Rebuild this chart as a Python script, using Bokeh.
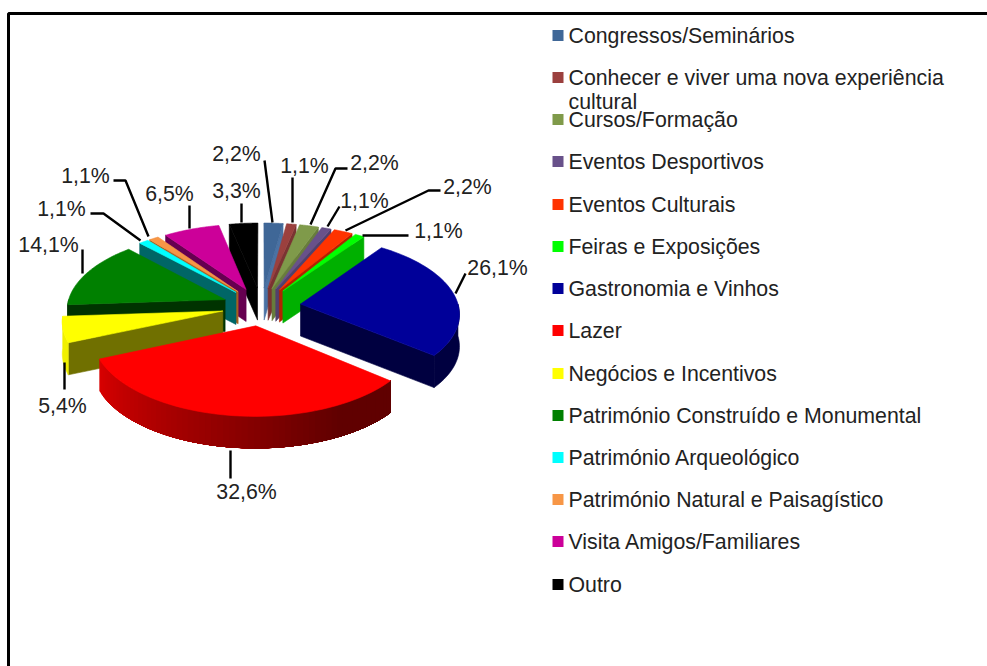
import numpy as np
from bokeh.plotting import figure
from bokeh.models import Range1d
from bokeh.core.properties import value
from bokeh.embed import file_html
from bokeh.resources import INLINE

categories = ["Congressos/Seminários", "Conhecer e viver uma nova experiência", "Cursos/Formação",
              "Eventos Desportivos", "Eventos Culturais", "Feiras e Exposições", "Gastronomia e Vinhos",
              "Lazer", "Negócios e Incentivos", "Património Construído e Monumental",
              "Património Arqueológico", "Património Natural e Paisagístico",
              "Visita Amigos/Familiares", "Outro"]
values = [2.2, 1.1, 2.2, 1.1, 2.2, 1.1, 26.1, 32.6, 5.4, 14.1, 1.1, 1.1, 6.5, 3.3]
top_colors = ["#3F6797", "#9B403E", "#7F9A4A", "#68518A", "#FF3300", "#00FF00", "#000099",
              "#FF0000", "#FFFF00", "#008000", "#00FFFF", "#F79646", "#CC0099", "#000000"]
wall_colors = ["#4A72A4", "#7A3332", "#687D3C", "#52406C", "#B02400", "#00B000", "#000040",
               "#660000", "#707000", "#003300", "#006666", "#A86020", "#660050", "#000000"]
rim_colors = ["#4A72A4", "#7A3332", "#687D3C", "#52406C", "#B02400", "#00B000", "#000040",
              "#D00000", "#F0F000", "#003300", "#006666", "#A86020", "#660050", "#000000"]
legend_y = [35, 77, 119, 161, 204, 246, 288, 330, 373, 415, 457, 499, 541, 584]
pct_labels = ["2,2%", "1,1%", "2,2%", "1,1%", "2,2%", "1,1%", "26,1%", "32,6%", "5,4%", "14,1%",
              "1,1%", "1,1%", "6,5%", "3,3%"]
label_x = [236, 304, 374, 364, 467, 438, 497, 246, 62, 48, 61, 85, 169, 236]
label_y = [153, 165, 162, 200, 186, 230, 267, 491, 405, 244, 208, 175, 193, 190]
leader_x = [[264, 272], [292, 292], [347, 335, 310], [339, 327], [440, 428, 345], [408, 362], [465, 455],
            [230, 230], [64, 64], [82, 82], [90, 103, 140], [113, 125, 148], [189, 189], [241, 241]]
leader_y = [[160, 222], [177, 222], [168, 168, 224], [206, 226], [190, 190, 230], [235, 235], [273, 293],
            [450, 478], [362, 389], [249, 273], [213, 213, 240], [180, 180, 236], [205, 228], [203, 222]]

CX, CY, RX, KY, PERSP, EXPL, DEPTH = 261, 306, 158, 76, 0.11, 0.25, 32
FONT = value("Liberation Sans")

p = figure(width=987, height=666, x_range=Range1d(0, 987), y_range=Range1d(666, 0),
           toolbar_location=None, output_backend="svg", min_border=0,
           background_fill_color="white", border_fill_color="white", outline_line_color=None)
p.axis.visible = False
p.grid.visible = False


def proj(X, Y, z=0.0):
    s = 1.0 / (1.0 + PERSP * Y)
    return CX + RX * X * s, CY - KY * Y * s + DEPTH * z


fractions = np.array(values) / sum(values)
edges = np.concatenate([[0.0], np.cumsum(fractions)]) * 2 * np.pi


def local(i, theta):
    m = (edges[i] + edges[i + 1]) / 2
    return EXPL * np.sin(m) + np.sin(theta), EXPL * np.cos(m) + np.cos(theta)


def apex(i):
    m = (edges[i] + edges[i + 1]) / 2
    return EXPL * np.sin(m), EXPL * np.cos(m)


def add_patch(xs, ys, color, edge=True):
    p.patch(list(xs), list(ys), fill_color=color, line_color=color if edge else None, line_width=0.6)


def rim_band(i, t0, t1):
    th = np.linspace(t0, t1, 24)
    lx, ly = local(i, th)
    ux, uy = proj(lx, ly)
    dx, dy = proj(lx, ly, 1)
    return np.concatenate([ux, dx[::-1]]), np.concatenate([uy, dy[::-1]])


def draw_slice(i):
    a0, a1 = edges[i], edges[i + 1]
    m = (a0 + a1) / 2
    ax, ay = apex(i)
    # radial wall that faces the viewer
    if i != 7:
        edge = a1 if m < np.pi else a0
        ex, ey = local(i, edge)
        pts = [proj(ax, ay), proj(ex, ey), proj(ex, ey, 1), proj(ax, ay, 1)]
        add_patch([q[0] for q in pts], [q[1] for q in pts], wall_colors[i])
    # outer rim wall (only its near half is visible)
    lo, hi = max(a0, np.pi / 2), min(a1, 3 * np.pi / 2)
    if hi > lo:
        if i == 7:
            # shaded band: paint from the dark end to the light end, each band overlapping the next
            n = 60
            steps = np.linspace(lo, hi, n + 1)
            for j in range(n):
                xs, ys = rim_band(i, lo, steps[n - j])
                t = (n - j) / n
                shade = int(0xD8 - (0xD8 - 0x60) * min(1.0, (1 - t) * 1.25))
                add_patch(xs, ys, "#%02X0000" % shade, edge=False)
        else:
            xs, ys = rim_band(i, lo, hi)
            add_patch(xs, ys, rim_colors[i])
    # top face
    th = np.linspace(a0, a1, 50)
    lx, ly = local(i, th)
    X = np.concatenate([[ax], lx])
    Y = np.concatenate([[ay], ly])
    sx, sy = proj(X, Y)
    add_patch(sx, sy, top_colors[i])


for i in [13, 12, 11, 10, 9, 8, 0, 1, 2, 3, 4, 5, 6, 7]:
    draw_slice(i)

# leader lines and percentage labels
p.multi_line(leader_x, leader_y, line_color="#000000", line_width=2.4)
p.text(label_x, label_y, text=pct_labels, text_font=FONT, text_font_size="21.3px", text_color="#222222",
       text_align="center", text_baseline="middle")

# legend
p.scatter([557.5] * len(legend_y), legend_y, marker="square", size=11, fill_color=top_colors, line_color=None)
p.text([568] * len(legend_y), legend_y, text=categories, text_font=FONT, text_font_size="21.3px",
       text_color="#222222", text_align="left", text_baseline="middle")
p.text([568], [101], text=["cultural"], text_font=FONT, text_font_size="21.3px", text_color="#222222",
       text_align="left", text_baseline="middle")

# chart-area frame, cut off by the picture at right and bottom
p.multi_line([[8, 8, 987]], [[666, 13, 13]], line_color="#000000", line_width=3)

open("out.html", "w").write(file_html(p, INLINE))
